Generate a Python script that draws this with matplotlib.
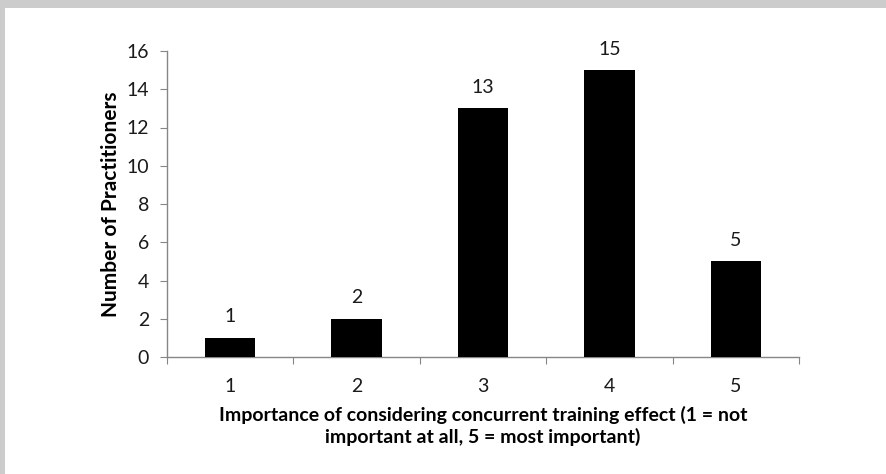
import matplotlib
matplotlib.use("Agg")
import matplotlib.pyplot as plt
from matplotlib.patches import Rectangle

# Survey responses: importance rating vs. number of practitioners
ratings = ["1", "2", "3", "4", "5"]
counts = [1, 2, 13, 15, 5]
y_ticks = [0, 2, 4, 6, 8, 10, 12, 14, 16]

plt.rcParams["font.family"] = ["Lato", "DejaVu Sans"]

W, H = 887, 474
fig = plt.figure(figsize=(W / 100, H / 100), dpi=100)
fig.patch.set_facecolor("#cccccc")
# white panel inside a thin grey frame (left and top)
fig.patches.append(Rectangle((5 / W, 0), 1 - 5 / W, 1 - 8 / H,
                             transform=fig.transFigure, facecolor="white",
                             edgecolor="none", zorder=-10))

ax = fig.add_axes([167 / W, 1 - 357 / H, (799 - 167) / W, (357 - 51) / H])
ax.set_facecolor("none")
ax.set_zorder(5)

positions = list(range(1, len(ratings) + 1))
bars = ax.bar(positions, counts, width=0.4, color="black", zorder=3)

for x, v in zip(positions, counts):
    ax.annotate(str(v), (x, v), xytext=(0, 9), textcoords="offset points",
                ha="center", va="bottom", fontsize=14, color="#1a1a1a")

ax.set_xlim(0.5, len(ratings) + 0.5)
ax.set_ylim(0, 16)
ax.set_yticks(y_ticks)
ax.set_xticks([p - 0.5 for p in positions] + [len(ratings) + 0.5])
ax.set_xticklabels([])
ax.set_xticks(positions, minor=True)
ax.set_xticklabels(ratings, minor=True)

axis_color = "#868686"
for side in ["top", "right"]:
    ax.spines[side].set_visible(False)
for side in ["left", "bottom"]:
    ax.spines[side].set_color(axis_color)
    ax.spines[side].set_linewidth(1.0)

ax.tick_params(axis="y", which="major", direction="out", length=5,
               color=axis_color, labelsize=14, labelcolor="#1a1a1a", pad=8)
ax.tick_params(axis="x", which="major", direction="out", length=5,
               color=axis_color)
ax.tick_params(axis="x", which="minor", length=0, labelsize=14,
               labelcolor="#1a1a1a", pad=15)

ax.set_ylabel("Number of Practitioners", fontsize=15, fontweight="bold",
              labelpad=4)
ax.set_xlabel("Importance of considering concurrent training effect (1 = not\n"
              "important at all, 5 = most important)", fontsize=14,
              fontweight="bold", labelpad=8, linespacing=1.25)

fig.savefig("out.png", dpi=100, facecolor=fig.get_facecolor())
